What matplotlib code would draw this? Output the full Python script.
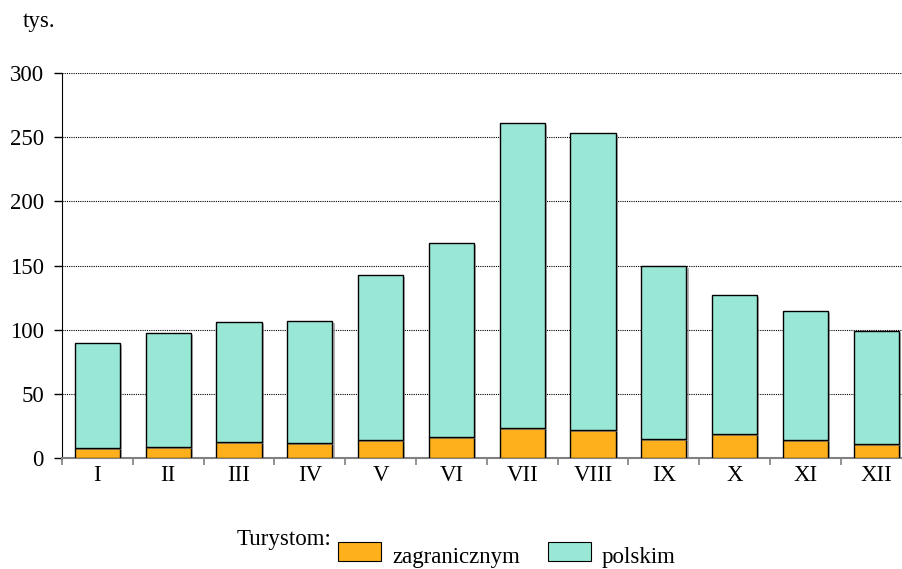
import matplotlib
matplotlib.use("Agg")
import matplotlib.pyplot as plt
import numpy as np
from matplotlib.patches import Rectangle
import matplotlib.patheffects as pe

months = ["I", "II", "III", "IV", "V", "VI", "VII", "VIII", "IX", "X", "XI", "XII"]
foreign = [7.5, 8.3, 12.2, 11.4, 13.8, 16.1, 23.1, 21.6, 14.6, 18.5, 13.8, 10.7]
total = [89.6, 97.4, 106.0, 106.8, 142.6, 167.5, 261.0, 253.3, 149.6, 127.0, 114.5, 99.0]
polish = [t - f for t, f in zip(total, foreign)]
yticks = [0, 50, 100, 150, 200, 250, 300]

plt.rcParams['font.family'] = ['Liberation Serif', 'DejaVu Serif']
FS = 16.5

fig = plt.figure(figsize=(9.02, 5.69), dpi=100)
ax = fig.add_axes([62/902, 111/569, 849.6/902, 385/569])

x = np.arange(len(months))
shadow = [pe.SimplePatchShadow(offset=(1.5, -1.5), shadow_rgbFace='#808080', alpha=0.6), pe.Normal()]
b1 = ax.bar(x, foreign, width=0.64, color='#FDB01C', edgecolor='black', linewidth=1.0, zorder=3)
b2 = ax.bar(x, polish, bottom=foreign, width=0.64, color='#99E8D6', edgecolor='black', linewidth=1.0, zorder=3)
for b in list(b1) + list(b2):
    b.set_path_effects(shadow)

ax.set_xlim(-0.5, len(months) - 0.5)
ax.set_ylim(0, 300)
ax.set_yticks(yticks)
ax.set_yticklabels([str(v) for v in yticks], fontsize=FS)
ax.yaxis.grid(True, linestyle=(0, (1, 1)), color='black', linewidth=0.8, zorder=0)
ax.set_axisbelow(True)

ax.set_xticks(np.arange(len(months) + 1) - 0.5)
ax.set_xticklabels([])
ax.set_xticks(x, minor=True)
ax.set_xticklabels(months, minor=True, fontsize=FS)
ax.tick_params(axis='x', which='minor', length=0, pad=5)
ax.tick_params(axis='x', which='major', length=5, color='#808080', width=1.2)
ax.tick_params(axis='y', length=6, width=1.0, pad=7)

for s in ['top', 'right']:
    ax.spines[s].set_visible(False)
ax.spines['bottom'].set_color('#808080')
ax.spines['bottom'].set_linewidth(1.5)
ax.spines['left'].set_color('black')

fig.text(23/902, 1 - 22/569, "tys.", fontsize=FS, va='center', ha='left')

# legend
fig.text(237/902, 1 - 540/569, "Turystom:", fontsize=FS, va='center', ha='left')
fig.patches.append(Rectangle((338/902, 1 - 561/569), 43/902, 19/569, transform=fig.transFigure,
                             facecolor='#FDB01C', edgecolor='black', linewidth=0.8, figure=fig))
fig.text(392/902, 1 - 557/569, "zagranicznym", fontsize=FS, va='center', ha='left')
fig.patches.append(Rectangle((548/902, 1 - 561/569), 43/902, 19/569, transform=fig.transFigure,
                             facecolor='#99E8D6', edgecolor='black', linewidth=0.8, figure=fig))
fig.text(602/902, 1 - 557/569, "polskim", fontsize=FS, va='center', ha='left')

fig.savefig("out.png", dpi=100)
